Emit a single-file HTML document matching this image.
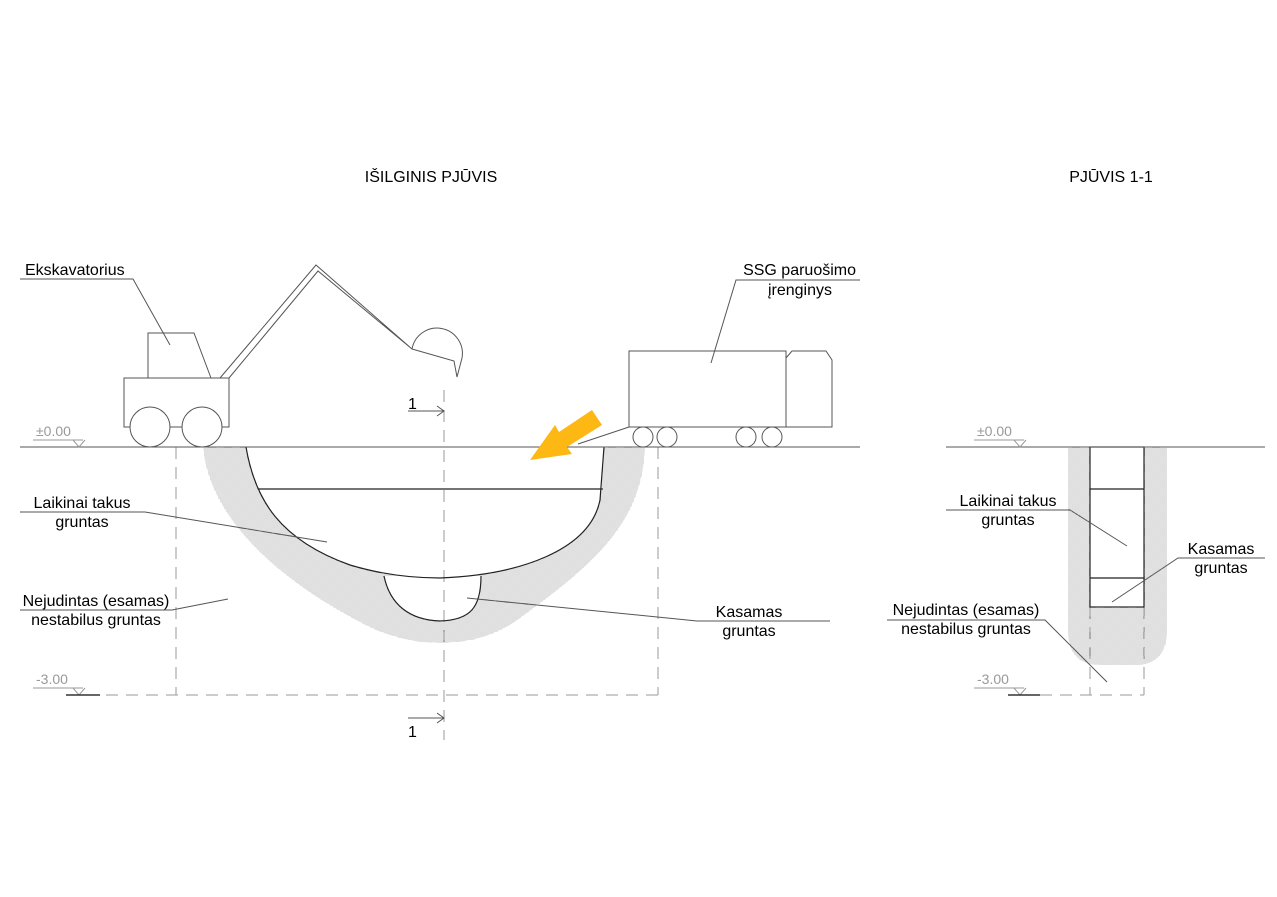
<!DOCTYPE html>
<html><head><meta charset="utf-8"><style>
html,body{margin:0;padding:0;background:#fff;}
svg{display:block;font-family:"Liberation Sans",sans-serif;}
</style></head><body>
<svg width="1277" height="897" viewBox="0 0 1277 897" xmlns="http://www.w3.org/2000/svg">
<defs>
<pattern id="h" width="16" height="16" patternUnits="userSpaceOnUse">
<g stroke="#b0b0b0" stroke-width="0.8">
<path d="M0,1H8M0,3H8M0,5H8M0,7H8"/>
<path d="M9,0V8M11,0V8M13,0V8M15,0V8"/>
<path d="M1,8V16M3,8V16M5,8V16M7,8V16"/>
<path d="M8,9H16M8,11H16M8,13H16M8,15H16"/>
</g></pattern>
</defs>
<g font-size="16" fill="#000">
<text x="431" y="182" text-anchor="middle">IŠILGINIS PJŪVIS</text>
<text x="1111" y="182" text-anchor="middle">PJŪVIS 1-1</text>
</g>
<path d="M203,447 C210,520 280,580 360,622 C400,645 470,656 520,618 C600,560 642,520 645,447 Z" fill="url(#h)"/>
<path d="M246,447 C255,500 280,540 350,565 C380,574 410,578 440,578 C520,575 590,550 600,500 L604,447 Z" fill="#fff"/>
<path d="M384,576 C390,605 410,620 440,621 C470,620 481,608 481,576 Z" fill="#fff"/>
<path d="M1068,447 V630 Q1068,665 1100,665 H1135 Q1167,665 1167,630 V447 Z" fill="url(#h)"/>
<rect x="1090" y="447" width="54" height="160" fill="#fff"/>
<g stroke="#9a9a9a" stroke-width="1" fill="none" stroke-dasharray="12,8">
<path d="M444,390V740M176,447V695M658,447V695M66,695H658"/>
<path d="M1090,607V695M1144,607V695M1040,695H1144"/>
</g>
<g stroke="#222" stroke-width="1.2" fill="none">
<path d="M246,447 C255,500 280,540 350,565 C380,574 410,578 440,578 C520,575 590,550 600,500 L604,447"/>
<path d="M384,576 C390,605 410,620 440,621 C470,620 481,608 481,576"/>
<path d="M258,489H603"/>
<rect x="1090" y="447" width="54" height="160"/>
<path d="M1090,489H1144M1090,578H1144"/>
</g>
<g stroke="#555" stroke-width="1" fill="none">
<path d="M20,447H860M946,447H1265"/>
<rect x="124" y="378" width="105" height="49"/>
<path d="M148,378V333H194L211,378"/>
<circle cx="150" cy="427" r="20" fill="#fff"/>
<circle cx="202" cy="427" r="20" fill="#fff"/>
<path d="M170,427H182"/>
<path d="M220,378L316,265L412,349M229,378L318,271L412,349"/>
<path d="M412,349 A24,24 0 1 1 462,358 L457,377 L454,361 Z"/>
<rect x="629" y="351" width="157" height="76"/>
<path d="M786,358L792,351H826L832,360V427H786"/>
<circle cx="643" cy="437" r="10"/><circle cx="667" cy="437" r="10"/>
<circle cx="746" cy="437" r="10"/><circle cx="772" cy="437" r="10"/>
<path d="M629,427L578,444"/>
<path d="M408,411H444M437,406L444,411L437,416"/>
<path d="M408,718H444M437,713L444,718L437,723"/>
<path d="M20,279H133L170,345"/>
<path d="M860,280H736L711,363"/>
<path d="M20,512H145L327,542"/>
<path d="M20,610H172L228,599"/>
<path d="M830,621H697L467,598"/>
<path d="M946,510H1070L1127,546"/>
<path d="M1265,558H1178L1112,602"/>
<path d="M887,620H1045L1107,682"/>
</g>
<g stroke="#999" stroke-width="1" fill="none">
<path d="M33,440H83M73,440L79,447L85,440"/>
<path d="M33,688H83M73,688L79,695L85,688"/>
<path d="M974,440H1024M1014,440L1020,447L1026,440"/>
<path d="M974,688H1024M1014,688L1020,695L1026,688"/>
</g>
<path d="M66,695H100M1008,695H1040" stroke="#333" stroke-width="1.5"/>
<g font-size="14" fill="#999">
<text x="36" y="436">±0.00</text><text x="36" y="684">-3.00</text>
<text x="977" y="436">±0.00</text><text x="977" y="684">-3.00</text>
</g>
<path d="M592,410 L559,432 L555,425 L530,460 L572,454 L567,447 L602,425 Z" fill="#FDB813"/>
<g font-size="16" fill="#000">
<text x="408" y="409">1</text><text x="408" y="737">1</text>
<text x="25" y="275">Ekskavatorius</text>
<text x="856" y="275" text-anchor="end">SSG paruošimo</text>
<text x="832" y="295" text-anchor="end">įrenginys</text>
<text x="82" y="508" text-anchor="middle">Laikinai takus</text>
<text x="82" y="527" text-anchor="middle">gruntas</text>
<text x="96" y="606" text-anchor="middle">Nejudintas (esamas)</text>
<text x="96" y="625" text-anchor="middle">nestabilus gruntas</text>
<text x="749" y="617" text-anchor="middle">Kasamas</text>
<text x="749" y="636" text-anchor="middle">gruntas</text>
<text x="1008" y="506" text-anchor="middle">Laikinai takus</text>
<text x="1008" y="525" text-anchor="middle">gruntas</text>
<text x="1221" y="554" text-anchor="middle">Kasamas</text>
<text x="1221" y="573" text-anchor="middle">gruntas</text>
<text x="966" y="615" text-anchor="middle">Nejudintas (esamas)</text>
<text x="966" y="634" text-anchor="middle">nestabilus gruntas</text>
</g>
</svg>
</body></html>
